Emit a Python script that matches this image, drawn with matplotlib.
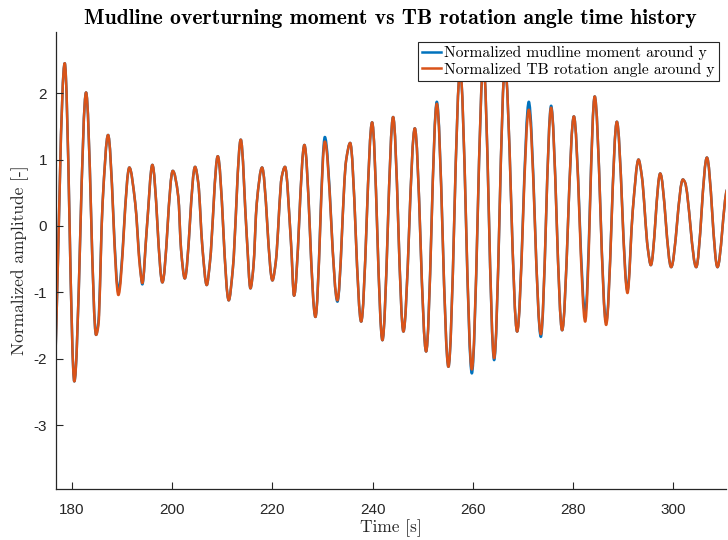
import numpy as np
import matplotlib
matplotlib.use("Agg")
import matplotlib.pyplot as plt
from matplotlib.path import Path
from matplotlib.patches import PathPatch
from matplotlib.lines import Line2D

plt.rcParams["axes.unicode_minus"] = False

# Sample instants [s] (peaks, troughs and slope breaks of the response)
time_s = [176.55, 178.54, 180.46, 182.80, 184.80, 185.25, 186.10, 187.19, 189.25, 191.44,
          192.60, 193.57, 194.03, 194.90, 196.03, 198.03, 200.10, 201.20, 201.76, 202.50,
          204.55, 205.20, 206.00, 206.88, 207.50, 209.08, 211.27, 212.07, 213.67, 214.87,
          215.60, 216.19, 216.86, 217.92, 219.99, 220.66, 221.85, 222.50, 223.70, 224.30,
          226.37, 228.57, 230.45, 232.96, 234.70, 235.50, 237.70, 239.88, 241.94, 244.07,
          246.13, 248.40, 250.66, 252.79, 255.11, 257.45, 259.78, 262.10, 264.23, 266.40,
          268.82, 271.15, 273.55, 275.60, 277.80, 280.14, 282.40, 284.30, 286.58, 288.72,
          290.84, 291.90, 293.04, 293.70, 294.90, 295.50, 297.37, 299.56, 301.90, 302.30,
          304.55, 306.69, 308.80, 310.67, 311.30]

# Normalized mudline overturning moment around y [-]
moment_norm = [-2.36, 2.45, -2.34, 2.01, -1.64, -1.45, 0.35, 1.37, -0.97, 0.88,
               0.35, -0.60, -0.88, -0.06, 0.92, -0.85, 0.83, 0.44, -0.36, -0.79,
               0.89, 0.64, -0.31, -0.89, -0.56, 1.05, -1.12, -0.66, 1.30, -0.16,
               -0.94, -0.62, 0.34, 0.88, -0.82, -0.54, 0.74, 0.89, -0.26, -1.05,
               1.22, -1.37, 1.34, -1.14, 0.99, 1.25, -1.44, 1.56, -1.72, 1.64,
               -1.59, 1.47, -1.89, 1.87, -2.12, 2.35, -2.22, 2.45, -2.02, 2.40,
               -1.59, 1.87, -1.67, 1.81, -1.57, 1.65, -1.31, 1.95, -1.45, 1.57,
               -0.97, 0.24, 1.00, 0.75, -0.34, -0.59, 0.79, -0.62, 0.70, 0.66,
               -0.62, 1.03, -0.62, 0.54, 0.62]

# Normalized tower-base rotation angle around y [-]
angle_norm = [-2.36, 2.45, -2.34, 2.01, -1.64, -1.50, 0.35, 1.37, -1.04, 0.88,
              0.35, -0.64, -0.86, -0.06, 0.92, -0.85, 0.83, 0.44, -0.36, -0.79,
              0.89, 0.64, -0.31, -0.89, -0.56, 1.05, -1.12, -0.66, 1.30, -0.16,
              -0.94, -0.62, 0.34, 0.88, -0.82, -0.54, 0.74, 0.89, -0.26, -1.05,
              1.22, -1.37, 1.27, -1.12, 0.99, 1.25, -1.44, 1.56, -1.72, 1.64,
              -1.59, 1.47, -1.89, 1.84, -2.12, 2.35, -2.16, 2.45, -1.99, 2.40,
              -1.59, 1.75, -1.63, 1.78, -1.57, 1.65, -1.44, 1.95, -1.49, 1.57,
              -1.01, 0.24, 1.00, 0.75, -0.34, -0.59, 0.79, -0.62, 0.70, 0.66,
              -0.62, 1.03, -0.62, 0.54, 0.62]

x_ticks = [180, 200, 220, 240, 260, 280, 300]
y_ticks = [-3, -2, -1, 0, 1, 2]
y_tick_labels = ["-3", "-2", "-1", "0", "1", "2"]

series_labels = ["Normalized mudline moment around y",
                 "Normalized TB rotation angle around y"]
colors = ["#0072BD", "#D95319"]


def smooth_path(t, y):
    """Cubic Bezier path through the samples with shape-preserving tangents."""
    t = np.asarray(t, float)
    y = np.asarray(y, float)
    h = np.diff(t)
    d = np.diff(y) / h
    m = np.zeros_like(y)
    for k in range(1, len(y) - 1):
        if d[k - 1] * d[k] > 0:
            w1 = 2 * h[k] + h[k - 1]
            w2 = h[k] + 2 * h[k - 1]
            m[k] = (w1 + w2) / (w1 / d[k - 1] + w2 / d[k])
    m[0] = d[0]
    m[-1] = d[-1]
    verts = [(t[0], y[0])]
    codes = [Path.MOVETO]
    for k in range(len(h)):
        verts += [(t[k] + h[k] / 3, y[k] + m[k] * h[k] / 3),
                  (t[k + 1] - h[k] / 3, y[k + 1] - m[k + 1] * h[k] / 3),
                  (t[k + 1], y[k + 1])]
        codes += [Path.CURVE4] * 3
    return Path(verts, codes)


fig = plt.figure(figsize=(7.28, 5.4), dpi=100)
ax = fig.add_axes([55.5 / 728, 1 - 489 / 540, (726 - 55.5) / 728, (489 - 32) / 540])

lw = 1.8
for vals, col in zip([moment_norm, angle_norm], colors):
    patch = PathPatch(smooth_path(time_s, vals), facecolor="none", edgecolor=col,
                      lw=lw, joinstyle="round", capstyle="round")
    ax.add_patch(patch)

ax.set_xlim(176.7, 310.5)
ax.set_ylim(-3.96, 2.92)

ax.set_xticks(x_ticks)
ax.set_xticklabels([str(v) for v in x_ticks], family="Liberation Sans", fontsize=11)
ax.set_yticks(y_ticks)
ax.set_yticklabels(y_tick_labels, family="Liberation Sans", fontsize=11)
ax.tick_params(direction="in", length=5, width=0.8, colors="#262626")
ax.tick_params(axis="x", pad=10)
ax.tick_params(axis="y", pad=6)

for side in ["top", "right"]:
    ax.spines[side].set_visible(False)
for side in ["left", "bottom"]:
    ax.spines[side].set_color("#262626")
    ax.spines[side].set_linewidth(0.9)

ax.set_title("Mudline overturning moment vs TB rotation angle time history",
             family="cmb10", fontsize=15.6, pad=6, color="#000000")
ax.set_xlabel("Time [s]", family="cmr10", fontsize=12.5, labelpad=2, color="#262626")
ax.set_ylabel("Normalized amplitude [-]", family="cmr10", fontsize=12.5, labelpad=3,
              color="#262626")

handles = [Line2D([], [], color=c, lw=lw) for c in colors]
leg = ax.legend(handles, series_labels, loc="upper right",
                bbox_to_anchor=(719 / 728, 1 - 42 / 540), bbox_transform=fig.transFigure,
                borderaxespad=0, prop={"family": "cmr10", "size": 11.2},
                handlelength=1.25, handletextpad=0.2, borderpad=0.25, labelspacing=0.15,
                frameon=True, fancybox=False, framealpha=1, edgecolor="#262626")
leg.get_frame().set_linewidth(0.8)
leg.set_zorder(10)

fig.savefig("out.png", dpi=100)
